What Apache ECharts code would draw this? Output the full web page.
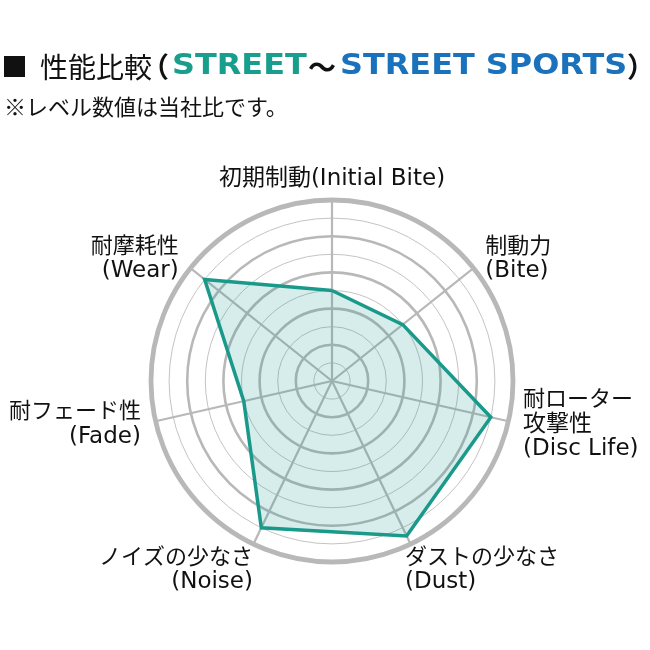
<!DOCTYPE html>
<html><head><meta charset="utf-8">
<script src="https://cdn.jsdelivr.net/npm/echarts@6/dist/echarts.min.js"></script>
<style>html,body{margin:0;padding:0;background:#fff}#c{width:650px;height:650px}</style>
</head><body><div id="c"></div>
<script>
// ---- data ----
const axisNames = [
  '初期制動(Initial Bite)',
  '耐摩耗性\n(Wear)',
  '耐フェード性\n(Fade)',
  'ノイズの少なさ\n(Noise)',
  'ダストの少なさ\n(Dust)',
  '耐ローター\n攻撃性\n(Disc Life)',
  '制動力\n(Bite)'
];
const levels = [5, 9, 5, 9, 9.5, 9, 5];
const axisMin = 0;
const axisMax = 10;
const titleMain = '性能比較';
const titleSeries1 = 'STREET';
const titleSeries2 = 'STREET SPORTS';
const subTitle = '※レベル数値は当社比です。';

// ---- styles ----
const JP = '"Noto Sans CJK JP"';
const LBL = '"DejaVu Sans", "Noto Sans CJK JP"';
const labelKeys = ['top', 'n', 'n', 'noise', 'dust', 'n', 'n'];
const base = { color: '#111', fontSize: 23, fontFamily: LBL, lineHeight: 24 };
const jpLine = Object.assign({}, base, { fontSize: 22 });
const rich = {
  topa: Object.assign({}, base, { lineHeight: 12 }),
  na: jpLine, nb: base,
  sp: Object.assign({}, base, { lineHeight: 25 }),
  dusta: Object.assign({}, jpLine, { padding: [0, 0, 0, -12] }),
  dustb: Object.assign({}, base, { padding: [0, 0, 0, -12] }),
  noisea: Object.assign({}, jpLine, { padding: [0, -6, 0, 0] }),
  noiseb: Object.assign({}, base, { padding: [0, -6, 0, 0] })
};
function fmt(name) {
  const k = labelKeys[axisNames.indexOf(name)] || 'n';
  const lines = name.split('\n').map((l, j) => '{' + k + (j === 0 ? 'a' : 'b') + '|' + l + '}');
  if (k === 'dust' || k === 'noise') lines.unshift('{sp| }');
  return lines.join('\n');
}
const indicator = axisNames.map(n => ({ name: n, min: axisMin, max: axisMax }));
const common = { center: [332, 381], radius: 181, startAngle: 90, shape: 'circle',
  splitArea: { show: false }, axisTick: { show: false }, axisLabel: { show: false } };

const chart = echarts.init(document.getElementById('c'), null, { renderer: 'canvas' });
chart.setOption({
  animation: false,
  backgroundColor: '#fff',
  radar: [
    Object.assign({}, common, {
      indicator: indicator, splitNumber: 10, nameGap: 15,
      axisName: Object.assign({}, base, { formatter: fmt, rich: rich }),
      splitLine: { lineStyle: { color: '#c4c4c4', width: 1 } },
      axisLine: { lineStyle: { color: '#b8b8b8', width: 2.2 } }
    }),
    Object.assign({}, common, {
      indicator: indicator, splitNumber: 5,
      axisName: { show: false },
      splitLine: { lineStyle: { color: '#b8b8b8', width: 2.6 } },
      axisLine: { show: false }
    }),
    Object.assign({}, common, {
      indicator: indicator, splitNumber: 1,
      axisName: { show: false },
      splitLine: { lineStyle: { color: '#b8b8b8', width: 4.8 } },
      axisLine: { show: false }
    })
  ],
  series: [{
    type: 'radar', radarIndex: 0, z: 5,
    symbol: 'none',
    lineStyle: { color: '#1a9a8b', width: 3.5, join: 'miter' },
    areaStyle: { color: 'rgba(26,154,139,0.25)' },
    data: [{ value: levels, name: titleSeries1 }]
  }],
  graphic: [
    { type: 'rect', shape: { x: 4, y: 56, width: 21, height: 21 }, style: { fill: '#111' } },
    { type: 'text', x: 40, y: 67, style: { text: titleMain, font: '28px ' + JP, fill: '#111', verticalAlign: 'middle' } },
    { type: 'text', x: 141, y: 67, style: { text: '（', font: 'bold 28px ' + JP, fill: '#111', verticalAlign: 'middle' } },
    { type: 'text', x: 172, y: 67, scaleX: 1.14, style: { text: titleSeries1, font: 'bold 28px "DejaVu Sans"', fill: '#189e8c', verticalAlign: 'middle' } },
    { type: 'text', x: 308, y: 67, style: { text: '～', font: 'bold 28px ' + JP, fill: '#111', verticalAlign: 'middle' } },
    { type: 'text', x: 340, y: 67, scaleX: 1.14, style: { text: titleSeries2, font: 'bold 28px "DejaVu Sans"', fill: '#1a72bd', verticalAlign: 'middle' } },
    { type: 'text', x: 627, y: 67, style: { text: '）', font: 'bold 28px ' + JP, fill: '#111', verticalAlign: 'middle' } },
    { type: 'text', x: 4, y: 107, style: { text: subTitle, font: '22px ' + JP, fill: '#111', verticalAlign: 'middle' } }
  ]
});
</script></body></html>
